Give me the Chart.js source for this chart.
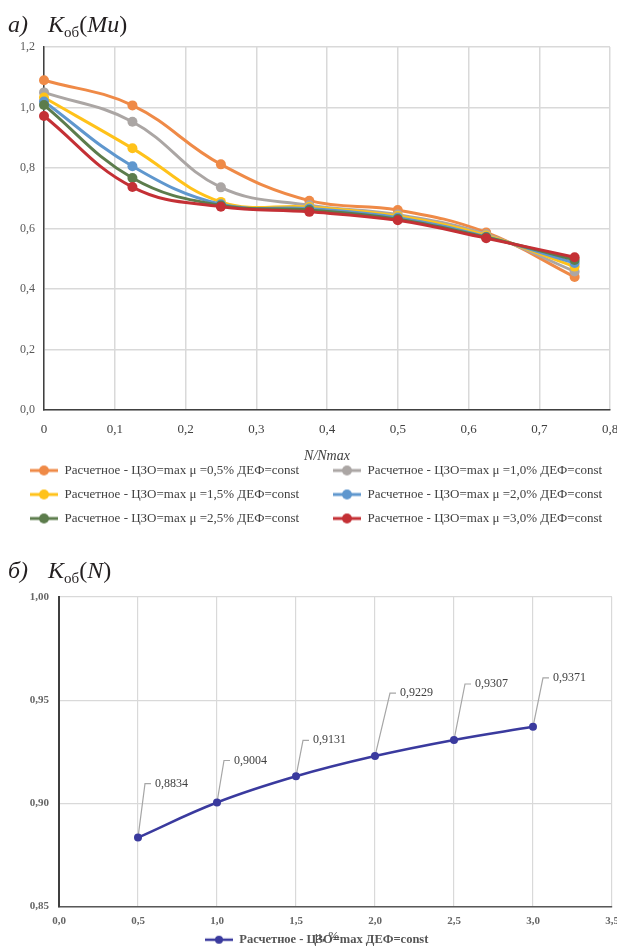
<!DOCTYPE html>
<html lang="ru">
<head>
<meta charset="utf-8">
<title>Kоб(Mu), Kоб(N)</title>
<script src="https://cdn.jsdelivr.net/npm/chart.js@4.4.1/dist/chart.umd.min.js"></script>
<style>
  html, body { margin: 0; padding: 0; background: #fff; }
  body { width: 617px; height: 950px; position: relative; overflow: hidden; font-family: "Liberation Serif", "Times New Roman", serif; }
  canvas { position: absolute; left: 0; }
  #chartA { top: 0; }
  #chartB { top: 545px; }
  .hd { position: absolute; left: 8px; font-size: 24px; line-height: 28px; color: #231f20; white-space: nowrap; }
  .hd sub { font-size: 15px; vertical-align: -5px; line-height: 0; }
  .hd .fn { margin-left: 20px; }
</style>
</head>
<body>
<canvas id="chartA" width="617" height="545"></canvas>
<canvas id="chartB" width="617" height="415"></canvas>
<div class="hd" style="top:10px"><i>а)</i><span class="fn"><i>K</i><sub>об</sub>(<i>Mu</i>)</span></div>
<div class="hd" style="top:556px"><i>б)</i><span class="fn"><i>K</i><sub>об</sub>(<i>N</i>)</span></div>
<script>
// --- chart a: K_об(Mu) vs N/Nmax ---
const relLoad = [0, 0.125, 0.25, 0.375, 0.5, 0.625, 0.75];
const muLabels = ["0,5", "1,0", "1,5", "2,0", "2,5", "3,0"];
const kMu05 = [1.09, 1.007, 0.812, 0.692, 0.661, 0.587, 0.44];
const kMu10 = [1.05, 0.953, 0.736, 0.677, 0.646, 0.581, 0.458];
const kMu15 = [1.033, 0.865, 0.688, 0.671, 0.641, 0.577, 0.474];
const kMu20 = [1.02, 0.806, 0.68, 0.666, 0.636, 0.573, 0.486];
const kMu25 = [1.008, 0.767, 0.676, 0.661, 0.631, 0.571, 0.496];
const kMu30 = [0.972, 0.737, 0.672, 0.655, 0.627, 0.568, 0.505];
const yTicksA = { min: 0, max: 1.2, step: 0.2 };
const xTicksA = { min: 0, max: 0.8, step: 0.1 };

// --- chart б: K_об(N) vs μ ---
const reinfRatio = [0.5, 1.0, 1.5, 2.0, 2.5, 3.0];
const kN = [0.8834, 0.9004, 0.9131, 0.9229, 0.9307, 0.9371];
const yTicksB = { min: 0.85, max: 1.0, step: 0.05 };
const xTicksB = { min: 0, max: 3.5, step: 0.5 };

const SERIF = "'Liberation Serif', 'Times New Roman', serif";
const colorsA = ["#ef8a47", "#aba6a4", "#ffc21a", "#5f97ce", "#5c7c4c", "#c43035"];
const colorB = "#3a3a9e";

const fmt = (v, d) => v.toFixed(d).replace(".", ",");

function lineDot(color, r, lw) {
  const c = document.createElement("canvas");
  c.width = 28;
  c.height = 2 * r + 2;
  const g = c.getContext("2d");
  g.strokeStyle = color;
  g.lineWidth = lw;
  g.beginPath();
  g.moveTo(0, c.height / 2);
  g.lineTo(28, c.height / 2);
  g.stroke();
  g.fillStyle = color;
  g.beginPath();
  g.arc(14, c.height / 2, r, 0, Math.PI * 2);
  g.fill();
  return c;
}

function textWidth(text, font) {
  const g = document.createElement("canvas").getContext("2d");
  g.font = font;
  return g.measureText(text).width;
}

// ---------- chart a ----------
const seriesA = [kMu05, kMu10, kMu15, kMu20, kMu25, kMu30];
const labelsA = muLabels.map((m) => "Расчетное - ЦЗО=max μ =" + m + "% ДЕФ=const");

// legend in two columns: pad left-column labels so the right column lines up
const legFontA = "13px " + SERIF;
const legPadA = 11;
const padLeftA = 19;
const padRightA = 0;
const itemRight = 28 + 6.5 + textWidth(labelsA[1], legFontA);
const spacing = Math.min(316, 617 - padLeftA - padRightA - 2 * legPadA - itemRight - 1);
function padLabel(t) {
  let s = t;
  while (textWidth(s + " ", legFontA) <= spacing - legPadA - 34.5) s += " ";
  return s;
}

new Chart(document.getElementById("chartA"), {
  type: "line",
  data: {
    datasets: seriesA.map((vals, i) => ({
      label: labelsA[i],
      data: relLoad.map((x, j) => ({ x, y: vals[j] })),
      borderColor: colorsA[i],
      backgroundColor: colorsA[i],
      pointBackgroundColor: colorsA[i],
      borderWidth: 3,
      pointRadius: 5,
      pointBorderWidth: 0,
      tension: 0.4,
      clip: false,
      order: 5 - i,
    })),
  },
  options: {
    responsive: false,
    animation: false,
    events: [],
    layout: { padding: { top: 47, left: padLeftA, right: padRightA, bottom: 10 } },
    scales: {
      x: {
        type: "linear",
        min: xTicksA.min,
        max: xTicksA.max,
        afterFit: (s) => {
          s.height = 43;
          s.paddingRight = 7;
        },
        ticks: {
          stepSize: xTicksA.step,
          padding: 12,
          color: "#404040",
          font: { family: SERIF, size: 13 },
          callback: (v) => (v === 0 ? "0" : fmt(v, 1)),
        },
        grid: { color: "#d9d9d9", lineWidth: 1.5, drawTicks: false },
        border: { color: "#404040", width: 1.5 },
        title: {
          display: true,
          text: "N/Nmax",
          color: "#404040",
          font: { family: SERIF, size: 14, style: "italic" },
          padding: { top: 0, bottom: -12 },
        },
      },
      y: {
        min: yTicksA.min,
        max: yTicksA.max,
        afterFit: (s) => { s.width = 44 - padLeftA; },
        ticks: {
          stepSize: yTicksA.step,
          padding: 9,
          color: "#595959",
          font: { family: SERIF, size: 12 },
          callback: (v) => fmt(v, 1),
        },
        grid: { color: "#d9d9d9", lineWidth: 1.5, drawTicks: false },
        border: { color: "#404040", width: 1.5 },
      },
    },
    plugins: {
      tooltip: { enabled: false },
      legend: {
        position: "bottom",
        align: "start",
        labels: {
          usePointStyle: true,
          pointStyleWidth: 28,
          padding: legPadA,
          color: "#404040",
          font: { family: SERIF, size: 13 },
          generateLabels: (chart) =>
            chart.data.datasets.map((ds, i) => ({
              text: i % 2 === 0 ? padLabel(ds.label) : ds.label,
              pointStyle: lineDot(ds.borderColor, 5, 3),
              fillStyle: ds.borderColor,
              strokeStyle: ds.borderColor,
              fontColor: "#404040",
              lineWidth: 0,
              hidden: false,
              datasetIndex: i,
            })),
        },
      },
    },
  },
});

// ---------- chart б ----------
const labelDx = [7, 7, 7, 15, 11, 10];
const labelDy = [-54, -42, -36, -63, -56, -49];

const leaderLabels = {
  id: "leaderLabels",
  beforeDatasetsDraw(chart) {
    const meta = chart.getDatasetMeta(0);
    const ctx = chart.ctx;
    ctx.save();
    ctx.strokeStyle = "#a6a6a6";
    ctx.lineWidth = 1.2;
    ctx.fillStyle = "#404040";
    ctx.font = "12px " + SERIF;
    ctx.textBaseline = "middle";
    meta.data.forEach((pt, i) => {
      const lx = pt.x + labelDx[i];
      const ly = pt.y + labelDy[i];
      ctx.beginPath();
      ctx.moveTo(pt.x, pt.y);
      ctx.lineTo(lx, ly);
      ctx.lineTo(lx + 6, ly);
      ctx.stroke();
      ctx.fillText(fmt(chart.data.datasets[0].data[i].y, 4), lx + 10, ly);
    });
    ctx.restore();
  },
};

// axis name sits over the legend, as in the source figure
const axisNote = {
  id: "axisNote",
  afterDraw(chart) {
    const ctx = chart.ctx;
    ctx.save();
    ctx.fillStyle = "#404040";
    ctx.font = "13px " + SERIF;
    ctx.textBaseline = "middle";
    ctx.textAlign = "center";
    ctx.fillText("μ, %", 327, 392);
    ctx.restore();
  },
};

const labelB = "Расчетное - ЦЗО=max ДЕФ=const";
const legFontB = "bold 12.5px " + SERIF;
const legPadB = 4;
const lineWB = 28 + 6.25 + textWidth(labelB, legFontB) + legPadB;
const padRightB = 0;
const padLeftB = Math.max(0, 410 - legPadB - 617 + padRightB + lineWB);

new Chart(document.getElementById("chartB"), {
  type: "line",
  data: {
    datasets: [
      {
        label: labelB,
        data: reinfRatio.map((x, j) => ({ x, y: kN[j] })),
        borderColor: colorB,
        backgroundColor: colorB,
        pointBackgroundColor: colorB,
        borderWidth: 2.5,
        pointRadius: 4,
        pointBorderWidth: 0,
        tension: 0.4,
        clip: false,
      },
    ],
  },
  plugins: [leaderLabels, axisNote],
  options: {
    responsive: false,
    animation: false,
    events: [],
    layout: { padding: { top: 52, left: padLeftB, right: padRightB, bottom: 4 } },
    scales: {
      x: {
        type: "linear",
        min: xTicksB.min,
        max: xTicksB.max,
        afterFit: (s) => {
          s.height = 23;
          s.paddingRight = 5;
        },
        ticks: {
          stepSize: xTicksB.step,
          padding: 8,
          color: "#666",
          font: { family: SERIF, size: 11, weight: "bold" },
          callback: (v) => fmt(v, 1),
        },
        grid: { color: "#d9d9d9", lineWidth: 1.2, drawTicks: false },
        border: { color: "#595959", width: 1.5 },
      },
      y: {
        min: yTicksB.min,
        max: yTicksB.max,
        afterFit: (s) => { s.width = 59 - padLeftB; },
        ticks: {
          stepSize: yTicksB.step,
          padding: 10,
          color: "#666",
          font: { family: SERIF, size: 11, weight: "bold" },
          callback: (v) => fmt(v, 2),
        },
        grid: { color: "#d9d9d9", lineWidth: 1.2, drawTicks: false },
        border: { color: "#3f3f3f", width: 2 },
      },
    },
    plugins: {
      tooltip: { enabled: false },
      legend: {
        position: "bottom",
        labels: {
          usePointStyle: true,
          pointStyleWidth: 28,
          padding: legPadB,
          color: "#555",
          font: { family: SERIF, size: 12.5, weight: "bold" },
          generateLabels: (chart) =>
            chart.data.datasets.map((ds, i) => ({
              text: ds.label,
              pointStyle: lineDot(ds.borderColor, 4, 2.5),
              fillStyle: ds.borderColor,
              strokeStyle: ds.borderColor,
              fontColor: "#555",
              lineWidth: 0,
              hidden: false,
              datasetIndex: i,
            })),
        },
      },
    },
  },
});
</script>
</body>
</html>
